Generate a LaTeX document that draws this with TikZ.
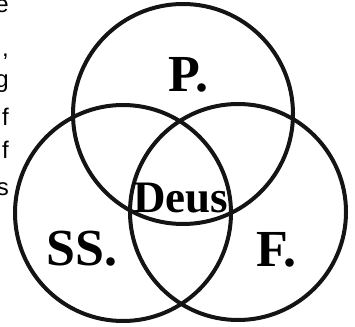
\documentclass[tikz,border=0pt]{standalone}
\usepackage{fontspec}
\newfontfamily\sidefont{Liberation Sans}
\newfontfamily\glossfont{Liberation Serif}

\begin{document}
\begin{tikzpicture}[x=1pt, y=-1pt,
    ring/.style={line width=4pt, black!92},
    gloss/.style={font=\glossfont\bfseries\fontsize{52}{52}\selectfont, inner sep=0pt},
    margin/.style={font=\sidefont\fontsize{24}{24}\selectfont, anchor=base east, inner sep=0pt}]
  \useasboundingbox (0, 0) rectangle (355, 326);
  \clip (0, 0) rectangle (355, 326);

  % cut-off ends of the text lines on the left
  \node [margin] (M-1) at (9, 13) {e};
  \node [margin] (M-2) at (9, 57) {,};
  \node [margin] (M-3) at (9, 88) {g};
  \node [margin] (M-4) at (9, 125) {f};
  \node [margin] (M-5) at (9, 158) {f};
  \node [margin] (M-6) at (9, 195) {s};

  % the three circles
  \draw [ring] (183, 114) circle (110);
  \draw [ring] (123, 213) circle (108);
  \draw [ring] (238, 212) circle (108);

  % the labels
  \node [gloss] (pater) at (188, 75) {P.};
  \node [gloss] (spiritus) at (82, 249) {SS.};
  \node [gloss] (filius) at (276, 250) {F.};
  \node [gloss, font=\glossfont\bfseries\fontsize{45}{45}\selectfont] (deus) at (181, 198) {Deus};
\end{tikzpicture}
\end{document}
